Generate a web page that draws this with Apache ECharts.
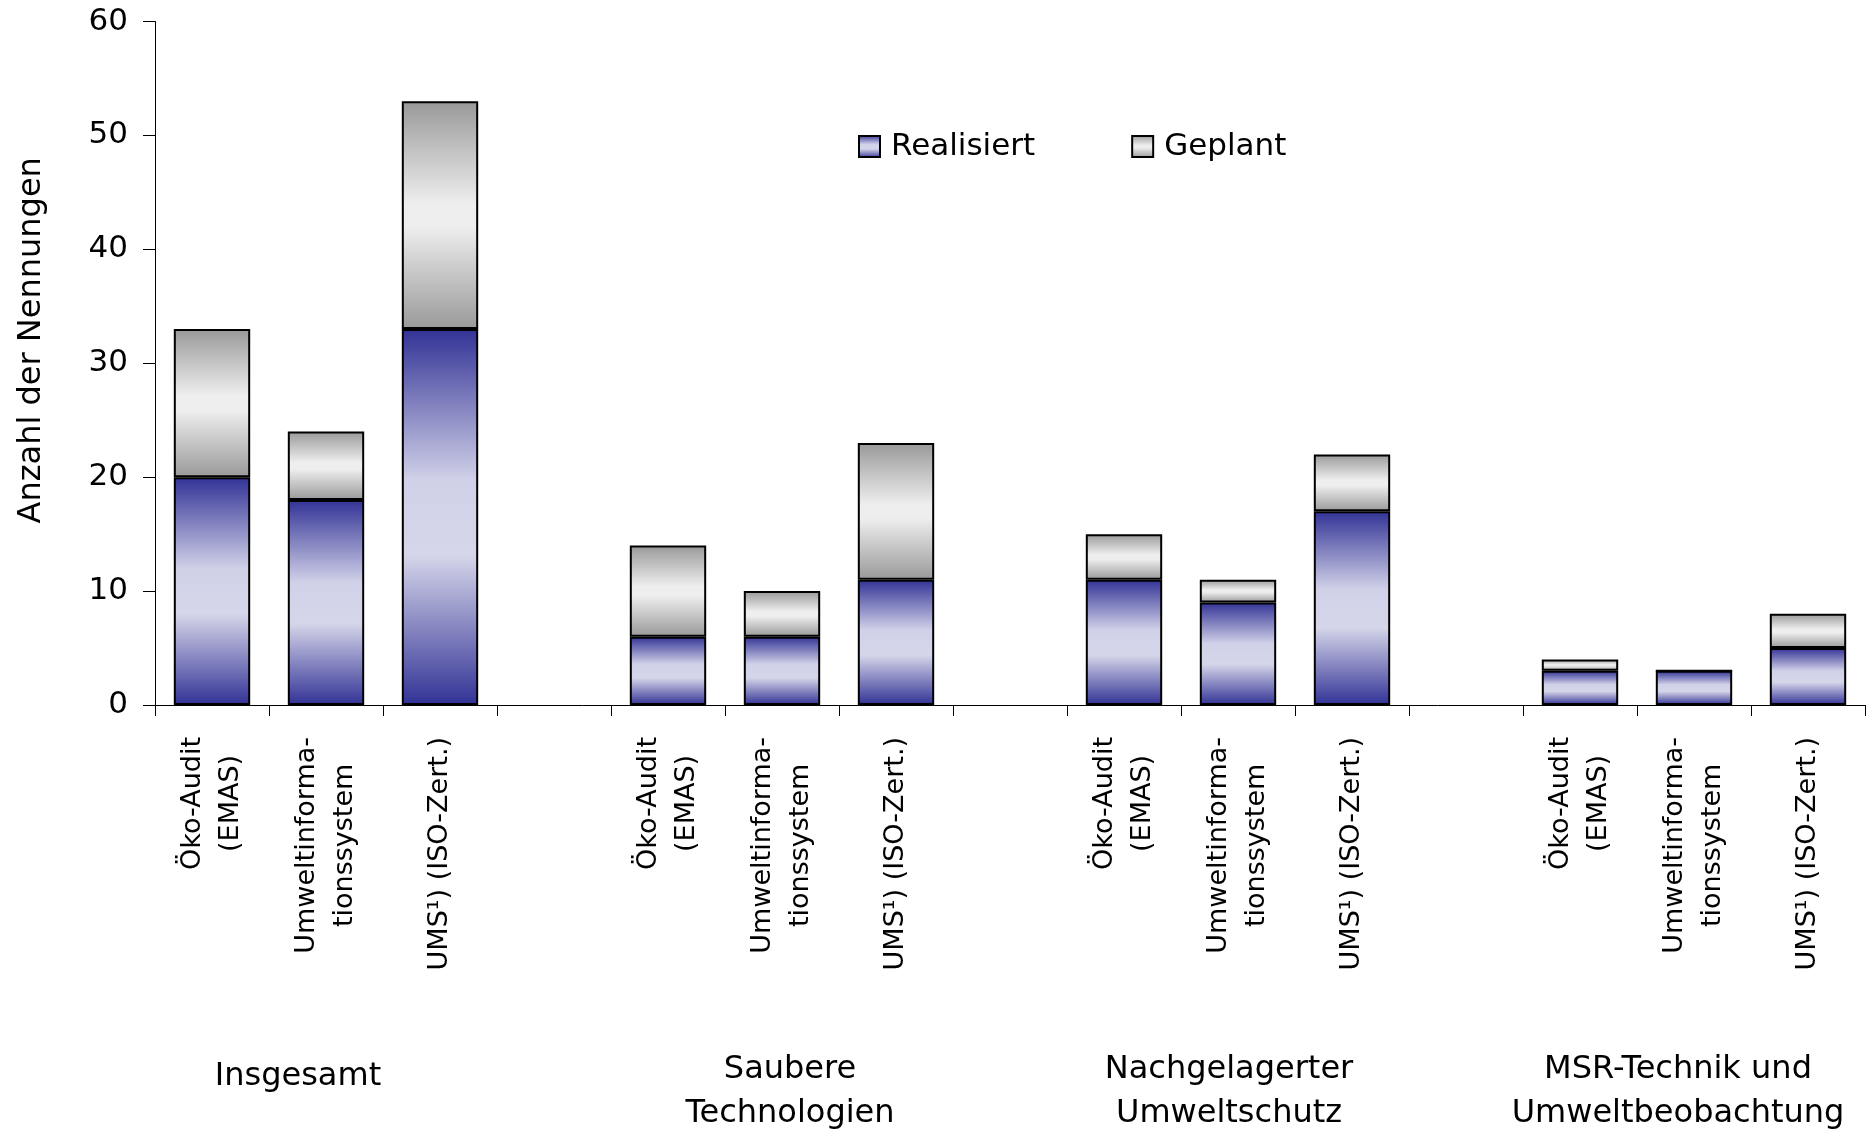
<!DOCTYPE html>
<html><head><meta charset="utf-8">
<script src="https://cdn.jsdelivr.net/npm/echarts@6/dist/echarts.min.js"></script>
<style>html,body{margin:0;padding:0;background:#fff}#c{width:1872px;height:1131px}</style>
</head><body><div id="c"></div>
<script>
// ---- data ----
const slotLabels = [
  'Öko-Audit\n(EMAS)', 'Umweltinforma-\ntionssystem', 'UMS¹) (ISO-Zert.)', '',
  'Öko-Audit\n(EMAS)', 'Umweltinforma-\ntionssystem', 'UMS¹) (ISO-Zert.)', '',
  'Öko-Audit\n(EMAS)', 'Umweltinforma-\ntionssystem', 'UMS¹) (ISO-Zert.)', '',
  'Öko-Audit\n(EMAS)', 'Umweltinforma-\ntionssystem', 'UMS¹) (ISO-Zert.)'
];
const groupNames = ['Insgesamt', 'Saubere\nTechnologien', 'Nachgelagerter\nUmweltschutz', 'MSR-Technik und\nUmweltbeobachtung'];
const groupSlots = [1, 5, 9, 13];
const realisiert = [20, 18, 33, null, 6, 6, 11, null, 11, 9, 17, null, 3, 3, 5];
const geplant    = [13, 6, 20, null, 8, 4, 12, null, 4, 2, 5, null, 1, 0, 3];
const yTicks = [0, 10, 20, 30, 40, 50, 60];

// ---- build ----
const FONT = 'DejaVu Sans';
const groupAxisData = slotLabels.map(() => '');
groupSlots.forEach((s, i) => { groupAxisData[s] = groupNames[i]; });
const groupPads = [[14, 56, 0, 0], [0, 0, 0, 16], [0, 18, 0, 0], [0, 32, 0, 0]];
const groupRich = {};
groupPads.forEach((p, i) => {
  groupRich['g' + i] = { fontFamily: FONT, fontSize: 32, lineHeight: 44, color: '#000', align: 'center', padding: p };
});

const blueGrad = new echarts.graphic.LinearGradient(0, 0, 0, 1, [
  { offset: 0, color: '#323296' },
  { offset: 0.4, color: '#d0d0e8' },
  { offset: 0.6, color: '#d6d6ea' },
  { offset: 1, color: '#323296' }
]);
const grayGrad = new echarts.graphic.LinearGradient(0, 0, 0, 1, [
  { offset: 0, color: '#999999' },
  { offset: 0.45, color: '#eeeeee' },
  { offset: 0.55, color: '#eeeeee' },
  { offset: 1, color: '#999999' }
]);

const chart = echarts.init(document.getElementById('c'), null, { renderer: 'canvas' });
chart.setOption({
  backgroundColor: '#fff',
  animation: false,
  textStyle: { fontFamily: FONT, color: '#000' },
  legend: {
    left: 853, top: 126,
    icon: 'rect',
    itemWidth: 21, itemHeight: 21, itemGap: 96,
    textStyle: { fontFamily: FONT, fontSize: 31, color: '#000', padding: [0, 0, 0, 6] },
    data: ['Realisiert', 'Geplant']
  },
  grid: { left: 155, right: 7, top: 21.5, bottom: 426, outerBoundsMode: 'none', containLabel: false },
  xAxis: [{
    type: 'category',
    data: slotLabels,
    axisLine: { lineStyle: { color: '#000', width: 1 } },
    axisTick: { show: true, length: 11, interval: 0, lineStyle: { color: '#000' } },
    axisLabel: {
      interval: 0, rotate: 90, margin: 32,
      formatter: v => v.split('\n').map(l => '{c|' + l + '}').join('\n'),
      rich: { c: { fontFamily: FONT, fontSize: 27, lineHeight: 38, color: '#000', align: 'center' } }
    }
  }, {
    type: 'category',
    position: 'bottom',
    data: groupAxisData,
    axisLine: { show: false },
    axisTick: { show: false },
    axisLabel: {
      interval: 0, margin: 343, verticalAlign: 'top',
      formatter: (v, idx) => {
        if (!v) return '';
        const gi = groupSlots.indexOf(idx);
        return v.split('\n').map(l => '{g' + gi + '|' + l + '}').join('\n');
      },
      rich: groupRich
    }
  }],
  yAxis: {
    type: 'value', min: 0, max: 60, interval: 10,
    name: 'Anzahl der Nennungen', nameLocation: 'middle', nameGap: 107,
    nameTextStyle: { fontFamily: FONT, fontSize: 32, color: '#000', padding: [0, 0, 0, 46] },
    axisLine: { show: true, lineStyle: { color: '#000', width: 1 } },
    axisTick: { show: true, length: 12, lineStyle: { color: '#000' } },
    splitLine: { show: false },
    axisLabel: { margin: 27, fontFamily: FONT, fontSize: 31, color: '#000',
      formatter: v => yTicks.includes(v) ? String(v) : '' }
  },
  series: [{
    name: 'Realisiert', type: 'bar', stack: 'a', data: realisiert,
    barCategoryGap: '33%',
    itemStyle: { color: blueGrad, borderColor: '#000', borderWidth: 2 }
  }, {
    name: 'Geplant', type: 'bar', stack: 'a', data: geplant,
    barCategoryGap: '33%',
    itemStyle: { color: grayGrad, borderColor: '#000', borderWidth: 2 }
  }]
});
</script>
</body></html>
